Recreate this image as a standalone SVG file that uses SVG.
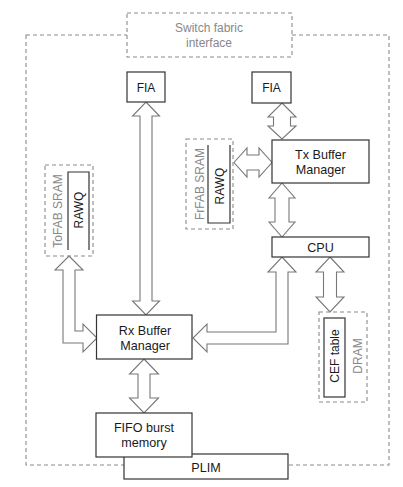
<svg xmlns="http://www.w3.org/2000/svg" width="403" height="487" viewBox="0 0 403 487">
<style>
  .box{fill:#fff;stroke:#333;stroke-width:1.2}
  .dash{fill:none;stroke:#8a8a8a;stroke-width:1.1;stroke-dasharray:4 3}
  .dashw{fill:#fff;stroke:#8a8a8a;stroke-width:1.1;stroke-dasharray:4 3}
  .arr{fill:#fff;stroke:#777;stroke-width:1.1;stroke-linejoin:miter}
  .brk{fill:none;stroke:#333;stroke-width:1.2}
  text{font-family:"Liberation Sans",Arial,sans-serif;font-size:12px;text-anchor:middle;fill:#1a1a1a}
  .lbl{font-size:12.6px}
  .g{fill:#888}
</style>
<rect width="403" height="487" fill="#fff"/>
<g id="outer">
  <rect class="dash" x="26" y="35" width="363" height="430"/>
</g>
<g id="switch-fabric">
  <rect class="dashw" x="127" y="13" width="165" height="44"/>
  <text class="g" x="209" y="32" font-size="12.5">Switch fabric</text>
  <text class="g" x="209" y="47" font-size="12.5">interface</text>
</g>
<g id="connectors">
  <polygon class="arr" points="146,102 159.5,116 152,116 152,301 159.5,301 146,315 132.5,301 140,301 140,116 132.5,116"/>
  <polygon class="arr" points="282,103 296,117 290.5,117 290.5,126 296,126 282,139 268,126 273.5,126 273.5,117 268,117"/>
  <polygon class="arr" points="234,162.5 247,148 247,155 259,155 259,148 272,162.5 259,177 259,170 247,170 247,177"/>
  <polygon class="arr" points="282,183 295,198 289,198 289,222 295,222 282,237 269,222 275,222 275,198 269,198"/>
  <polygon class="arr" points="282,257 296,272 288,272 288,344 207,344 207,352 193,338 207,324 207,332 276,332 276,272 268,272"/>
  <polygon class="arr" points="330,257 344,272 336.5,272 336.5,297 344,297 330,312 316,297 323.5,297 323.5,272 316,272"/>
  <polygon class="arr" points="69,256 83,270 75,270 75,331 83,331 83,324 97,338 83,352 83,343 63,343 63,270 55,270"/>
  <polygon class="arr" points="144,359 158.5,374 150,374 150,398 158.5,398 144,413 129.5,398 138,398 138,374 129.5,374"/>
</g>
<g id="fia-left">
  <rect class="box" x="127" y="72" width="38" height="30"/>
  <text x="146" y="91.5" font-size="13">FIA</text>
</g>
<g id="fia-right">
  <rect class="box" x="252" y="72" width="39" height="31"/>
  <text x="271.5" y="92" font-size="13">FIA</text>
</g>
<g id="tx-buffer-manager">
  <rect class="box" x="272" y="140" width="97" height="43"/>
  <text class="lbl" x="320.5" y="159">Tx Buffer</text>
  <text class="lbl" x="320.5" y="174">Manager</text>
</g>
<g id="frfab-sram">
  <rect class="dash" x="186" y="139" width="47" height="90"/>
  <path class="brk" d="M208,145 V223 H230 V145"/>
  <text class="g" transform="translate(204,184) rotate(-90)">FrFAB SRAM</text>
  <text transform="translate(223.5,186) rotate(-90)">RAWQ</text>
</g>
<g id="cpu">
  <rect class="box" x="272" y="237" width="97" height="20"/>
  <text class="lbl" x="320.5" y="251.5">CPU</text>
</g>
<g id="tofab-sram">
  <rect class="dash" x="45" y="165" width="48" height="91"/>
  <path class="brk" d="M68,250 V172 H89 V250"/>
  <text class="g" transform="translate(62,211) rotate(-90)">ToFAB SRAM</text>
  <text transform="translate(82.5,210) rotate(-90)">RAWQ</text>
</g>
<g id="dram">
  <rect class="dash" x="319" y="312" width="48" height="90"/>
  <rect class="box" x="324" y="318" width="21" height="79"/>
  <text transform="translate(339,356) rotate(-90)">CEF table</text>
  <text class="g" transform="translate(362,356) rotate(-90)">DRAM</text>
</g>
<g id="rx-buffer-manager">
  <rect class="box" x="96.5" y="315" width="95.5" height="44"/>
  <text class="lbl" x="145" y="335">Rx Buffer</text>
  <text class="lbl" x="145" y="349.5">Manager</text>
</g>
<g id="plim">
  <rect class="box" x="124" y="454" width="164" height="25"/>
  <text class="lbl" x="206" y="471.5">PLIM</text>
</g>
<g id="fifo-burst-memory">
  <rect class="box" x="96" y="413" width="96" height="44"/>
  <text class="lbl" x="144" y="432">FIFO burst</text>
  <text class="lbl" x="144" y="446.5">memory</text>
</g>
</svg>
